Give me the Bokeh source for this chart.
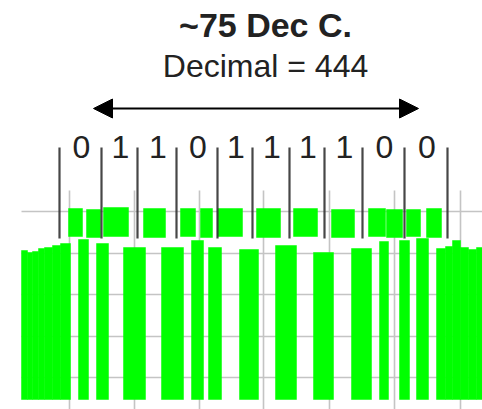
from bokeh.plotting import figure
from bokeh.models import Range1d, Arrow, NormalHead, ColumnDataSource
from bokeh.embed import file_html
from bokeh.resources import INLINE
from bokeh.core.properties import value

# ---- data (x: sample index, y: signal level, both) ----
title_text = "~75 Dec C."
subtitle_text = "Decimal = 444"
bits = ["0", "1", "1", "0", "1", "1", "1", "1", "0", "0"]

# bit boundary markers
bit_edges = [59, 101, 137, 176, 217, 252, 289, 324, 362, 404, 447]
marker_bottom = 171
marker_top = 262

# carrier-off (low) segments: full envelope from floor to level
low_left = [21, 27, 32, 38, 44, 52, 60, 78, 96, 123, 161, 191, 208, 239, 275, 313,
            351, 379, 399, 416, 436, 445, 452, 460, 468, 476]
low_right = [27, 32, 38, 44, 52, 60, 70, 88, 108, 145, 183, 203, 221, 258, 296, 333,
             371, 388, 409, 428, 445, 452, 460, 468, 476, 482]
low_top = [159, 157, 158, 161, 162, 164, 166, 170, 166, 162, 162, 169, 162, 160, 164, 157,
           161, 168, 169, 171, 161, 163, 169, 162, 160, 162]
floor_level = 10

# carrier-on (high) segments: envelope band
high_left = [68, 86, 103, 143, 180, 200, 217, 256, 293, 331, 368, 386, 406, 426]
high_right = [82, 100, 128, 165, 195, 212, 242, 280, 317, 354, 385, 402, 420, 441]
high_top = [201, 200, 202, 201, 201, 201, 201, 201, 201, 200, 201, 200, 200, 201]
high_bottom = [173, 172, 173, 172, 173, 172, 173, 172, 173, 172, 173, 172, 173, 172]

# grid
grid_x = [69, 134, 199, 263, 329, 394, 460]
grid_x_top = 219
grid_y = [198, 156, 115, 73, 32]
grid_y_left = 21

# arrow span
arrow_start = 93
arrow_end = 418
arrow_level = 301

W, H = 482, 409
p = figure(width=W, height=H, output_backend="svg", toolbar_location=None,
           x_range=Range1d(0, W), y_range=Range1d(0, H),
           x_axis_location=None, y_axis_location=None, min_border=0)
p.outline_line_color = None
p.xgrid.visible = False
p.ygrid.visible = False
p.background_fill_color = "white"
p.border_fill_color = "white"

grid_col = "#c4c4c4"
p.segment(x0=grid_x, x1=grid_x, y0=[0] * len(grid_x), y1=[grid_x_top] * len(grid_x),
          line_color=grid_col, line_width=1.6)
p.segment(x0=[grid_y_left] * len(grid_y), x1=[W] * len(grid_y), y0=grid_y, y1=grid_y,
          line_color=grid_col, line_width=1.6)

green = "#00ff00"
p.quad(left=low_left, right=low_right, bottom=[floor_level] * len(low_left), top=low_top,
       fill_color=green, line_color=green, line_width=0.5)
p.quad(left=high_left, right=high_right, bottom=high_bottom, top=high_top,
       fill_color=green, line_color=green, line_width=0.5)

p.segment(x0=bit_edges, x1=bit_edges, y0=[marker_bottom] * len(bit_edges),
          y1=[marker_top] * len(bit_edges), line_color="#333333", line_width=2.2, line_alpha=0.9)

bit_x = [(bit_edges[i] + bit_edges[i + 1]) / 2 + 1 for i in range(len(bits))]
src = ColumnDataSource(dict(x=bit_x, y=[262.5] * len(bits), t=bits))
p.text(x="x", y="y", text="t", source=src, text_align="center", text_baseline="middle",
       text_font=value("Liberation Sans"), text_font_size="32px", text_color="#222222")

p.text(x=[265], y=[385], text=[title_text], text_align="center", text_baseline="middle",
       text_font=value("Liberation Sans"), text_font_style="bold", text_font_size="34px",
       text_color="#222222")
p.text(x=[265], y=[344], text=[subtitle_text], text_align="center", text_baseline="middle",
       text_font=value("Liberation Sans"), text_font_size="32px", text_color="#222222")

p.add_layout(Arrow(x_start=arrow_start, y_start=arrow_level, x_end=arrow_end, y_end=arrow_level,
                   line_width=2, line_color="black",
                   start=NormalHead(size=19, fill_color="black", line_color="black"),
                   end=NormalHead(size=19, fill_color="black", line_color="black")))

open("out.html", "w").write(file_html(p, INLINE))
